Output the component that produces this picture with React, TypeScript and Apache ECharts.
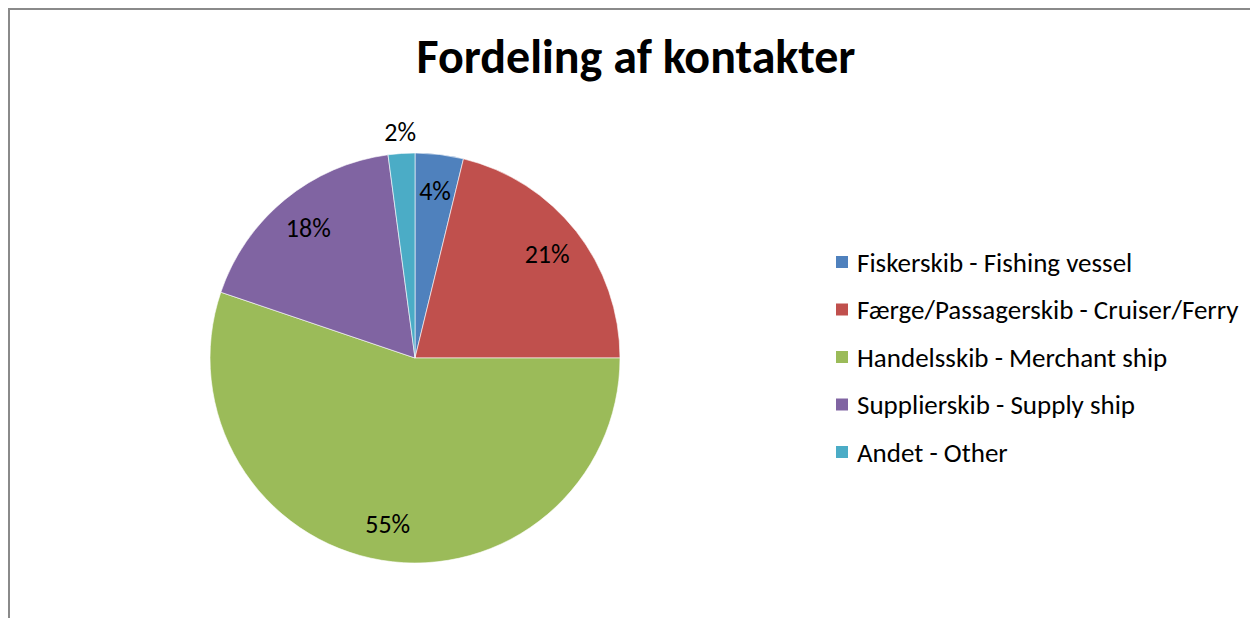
import React, { useEffect, useRef } from "react";
import * as echarts from "echarts";

const categories = [
  "Fiskerskib - Fishing vessel",
  "Færge/Passagerskib - Cruiser/Ferry",
  "Handelsskib - Merchant ship",
  "Supplierskib - Supply ship",
  "Andet - Other",
];
const values = [3.8, 21.2, 55.2, 17.7, 2.1];
const colors = ["#4F81BD", "#C0504D", "#9BBB59", "#8064A2", "#4BACC6"];
const outsideLabel = ["Andet - Other"];

const FONT = "Carlito, Calibri, Lato, sans-serif";

export default function App() {
  const ref = useRef<HTMLDivElement>(null);
  useEffect(() => {
    if (!ref.current) return;
    const chart = echarts.init(ref.current, null, { renderer: "svg" });
    const fmt = (p: any) => Math.round(p.percent) + "%";
    const center = [415, 358];
    const R = 205;
    chart.setOption({
      animation: false,
      title: {
        text: "Fordeling af kontakter",
        left: 631,
        textAlign: "center",
        top: 27,
        textStyle: { fontFamily: FONT, fontSize: 48, fontWeight: "bold", color: "#000" },
      },
      legend: {
        orient: "vertical",
        left: 829,
        top: 243,
        itemWidth: 14,
        itemHeight: 14,
        itemGap: 19.5,
        icon: "rect",
        data: categories,
        textStyle: { fontFamily: FONT, fontSize: 27, lineHeight: 28, color: "#000", padding: [0, 0, 0, 3] },
      },
      series: [
        {
          type: "pie",
          center,
          radius: [0, R],
          startAngle: 90,
          clockwise: true,
          label: { show: false },
          labelLine: { show: false },
          itemStyle: { borderColor: "#ffffff", borderWidth: 0.6 },
          data: categories.map((c, i) => ({ name: c, value: values[i], itemStyle: { color: colors[i] } })),
        },
        {
          type: "pie",
          center,
          radius: [125, R],
          startAngle: 90,
          silent: true,
          legendHoverLink: false,
          itemStyle: { color: "rgba(0,0,0,0)" },
          label: { show: true, position: "inside", formatter: fmt, fontFamily: FONT, fontSize: 26, color: "#000" },
          labelLine: { show: false },
          data: categories.map((c, i) => ({
            name: c,
            value: values[i],
            label: { show: outsideLabel.indexOf(c) < 0 },
          })),
        },
        {
          type: "pie",
          center,
          radius: [R, R + 36],
          startAngle: 90,
          silent: true,
          legendHoverLink: false,
          itemStyle: { color: "rgba(0,0,0,0)" },
          label: { show: true, position: "inside", formatter: fmt, fontFamily: FONT, fontSize: 26, color: "#000" },
          labelLine: { show: false },
          data: categories.map((c, i) => ({
            name: c,
            value: values[i],
            label: { show: outsideLabel.indexOf(c) >= 0 },
          })),
        },
      ],
    });
    return () => chart.dispose();
  }, []);
  return (
    <div>
      <div
        style={{
          position: "fixed",
          left: 8,
          top: 8,
          width: 1242,
          height: 610,
          boxSizing: "border-box",
          borderTop: "2px solid #8a8a8a",
          borderLeft: "2px solid #8a8a8a",
          background: "#fff",
        }}
      />
      <div ref={ref} style={{ position: "fixed", left: 0, top: 0, width: 1250, height: 618 }} />
    </div>
  );
}
